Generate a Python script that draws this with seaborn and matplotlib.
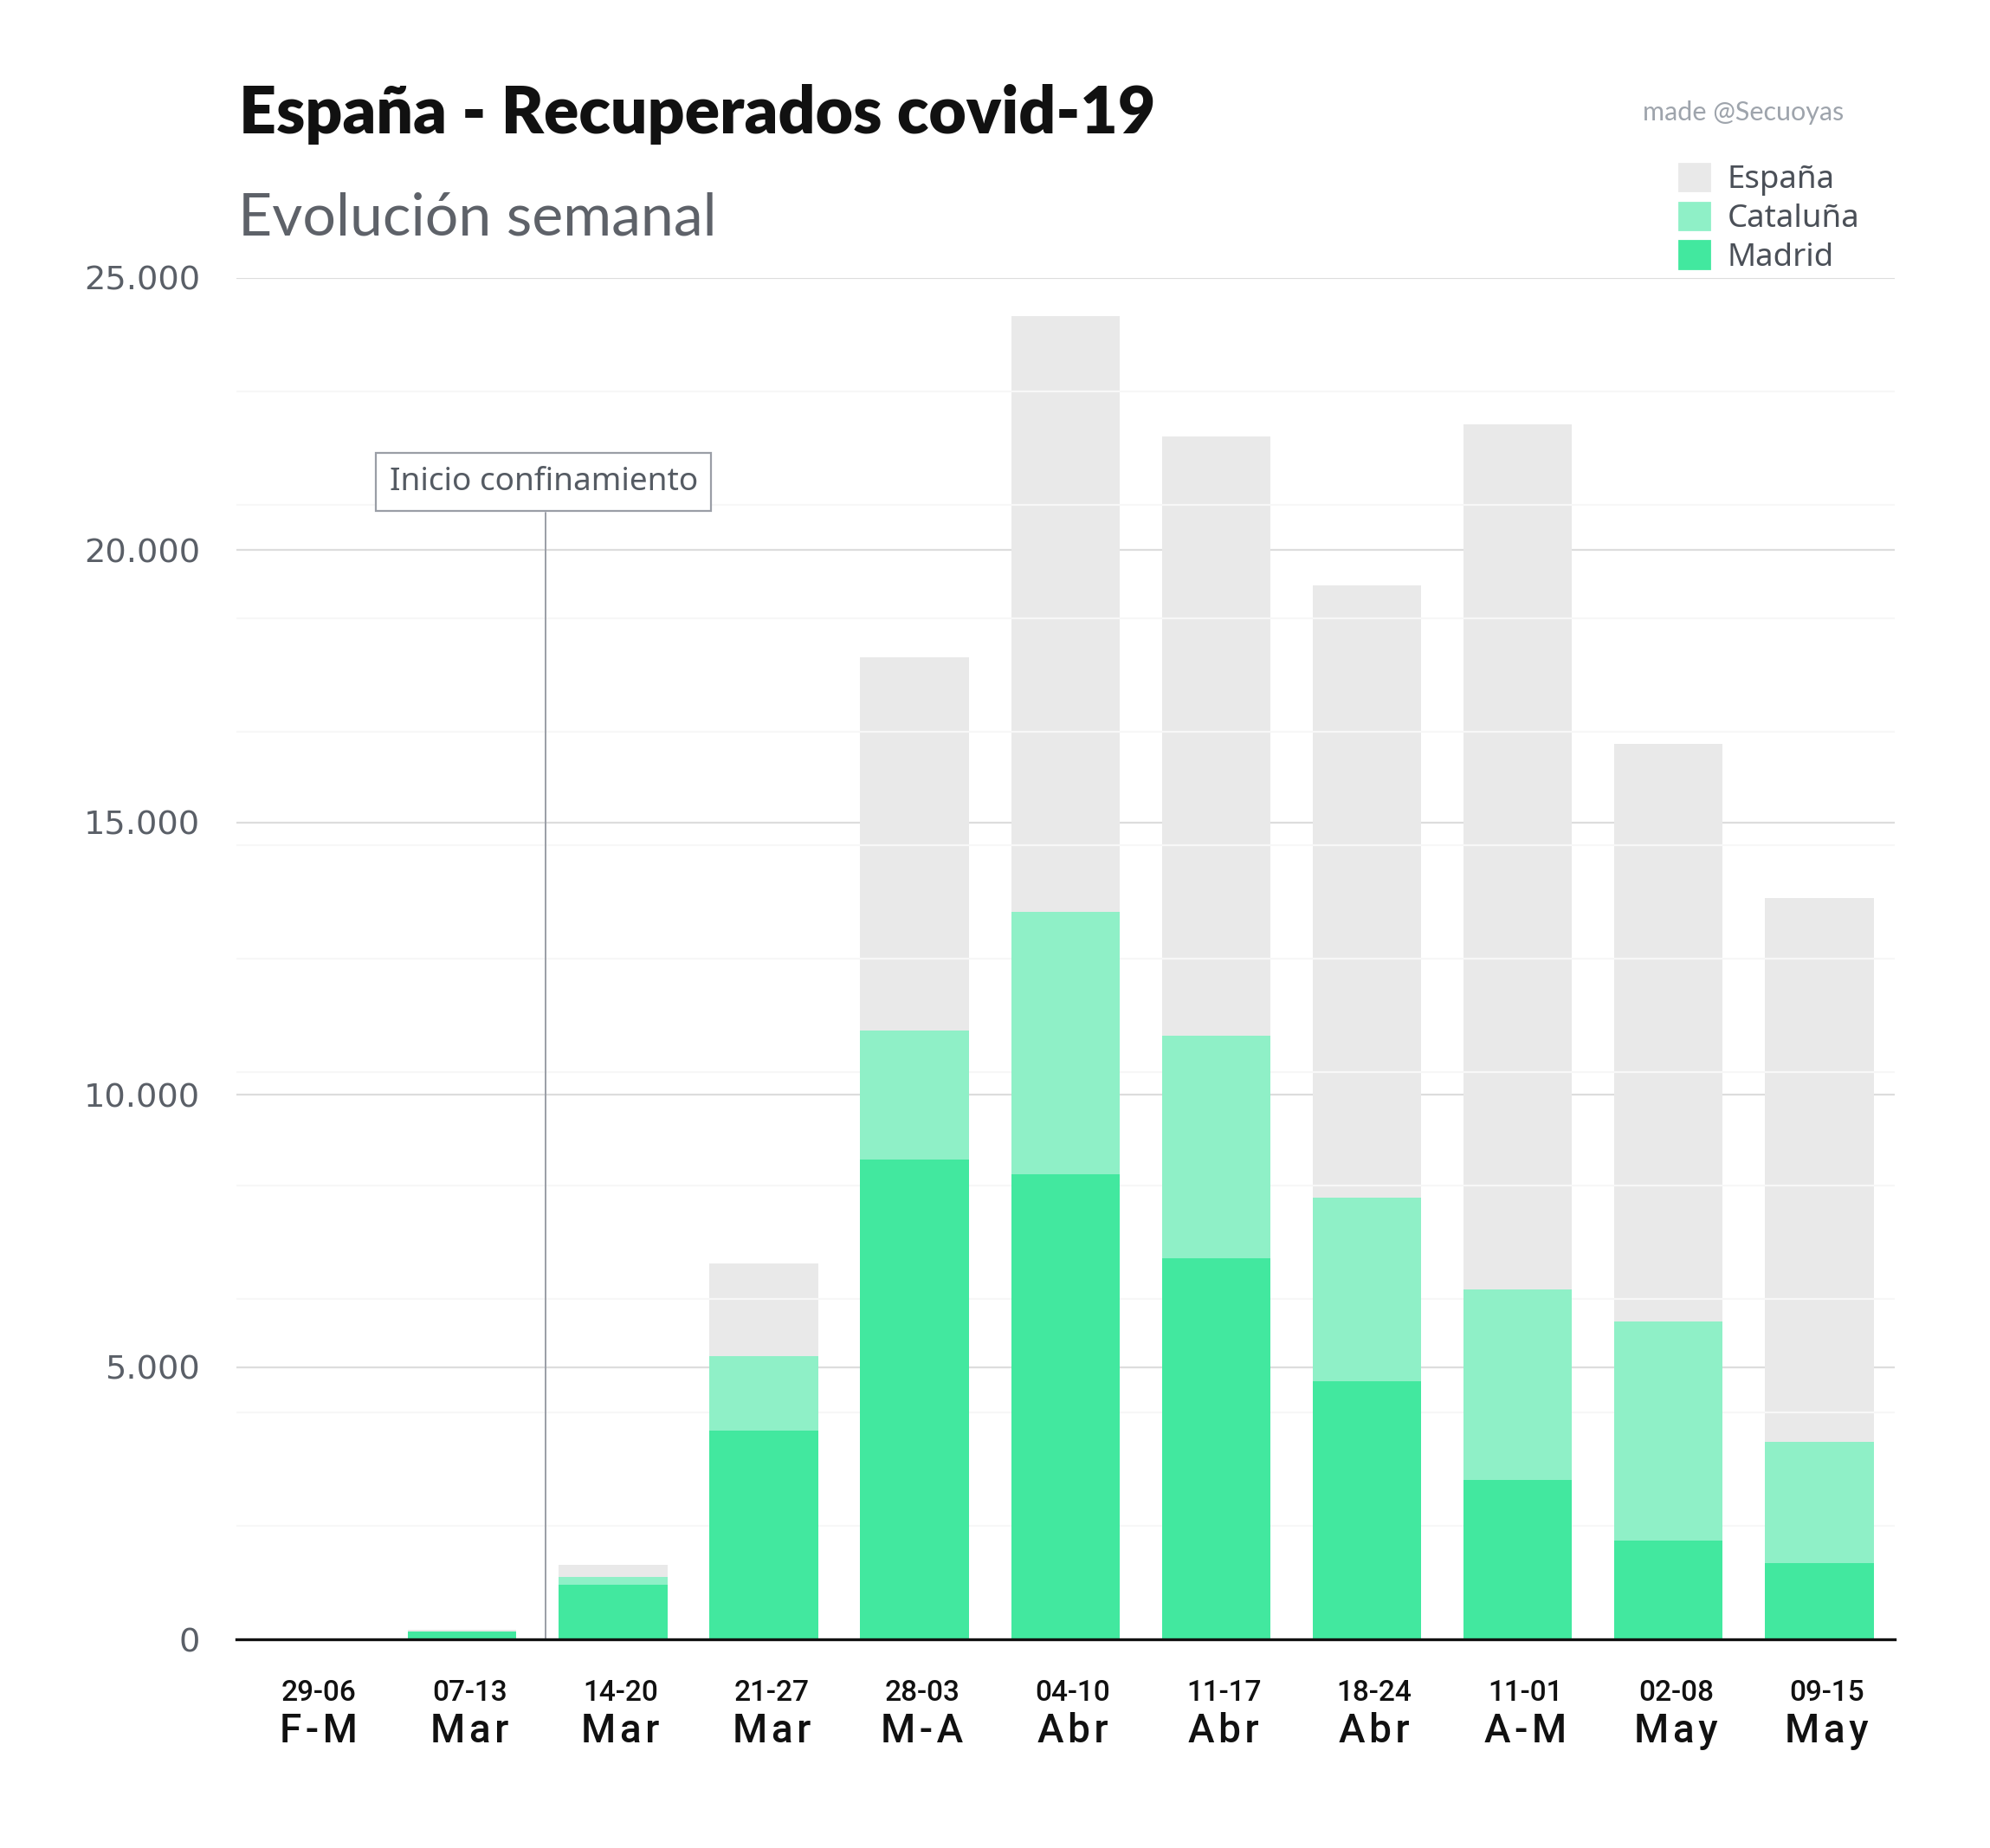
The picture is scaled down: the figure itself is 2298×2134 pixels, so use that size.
import numpy as np
import pandas as pd
import seaborn as sns
import matplotlib.pyplot as plt
from matplotlib.patches import Patch
from matplotlib import transforms

# datos semanales
semanas = ['29-06', '07-13', '14-20', '21-27', '28-03', '04-10', '11-17', '18-24', '11-01', '02-08', '09-15']
meses = ['F-M', 'Mar', 'Mar', 'Mar', 'M-A', 'Abr', 'Abr', 'Abr', 'A-M', 'May', 'May']
espana = [0, 175, 1370, 6900, 18030, 24300, 22090, 19360, 22320, 16450, 13610]
cataluna = [0, 5, 130, 1355, 2370, 4820, 4080, 3360, 3490, 4030, 2230]
madrid = [0, 150, 1015, 3845, 8810, 8550, 7010, 4750, 2940, 1815, 1400]

lockdown_x = 1.55
lockdown_y = 21250
lockdown_line_top = 20690

c_esp = '#e9e9e9'
c_cat = '#8ff0c7'
c_mad = '#42e89f'

df = pd.DataFrame({'semana': semanas, 'mes': meses, 'espana': espana,
                   'cataluna': cataluna, 'madrid': madrid})
df['cat_top'] = df['madrid'] + df['cataluna']

sns.set_theme(style='white')
plt.rcParams['font.family'] = ['DejaVu Sans']

fig = plt.figure(figsize=(11.49, 10.67), dpi=200)
ax = fig.add_axes([0.1186, 0.1127, 0.8335, 0.7369])

# grid mayor detrás
for v in [5000, 10000, 15000, 20000, 25000]:
    ax.axhline(v, color='#dddddd', lw=0.8, zorder=0)

sns.barplot(data=df, x='semana', y='espana', color=c_esp, width=0.72,
            linewidth=0, saturation=1, ax=ax, zorder=1)
# líneas menores (blancas sobre el gris)
minor = np.arange(1, 12) * 25000 / 12
ax.hlines(minor, -0.5, 10.5, color='#f7f7f7', lw=0.8, zorder=1.5)
sns.barplot(data=df, x='semana', y='cat_top', color=c_cat, width=0.72,
            linewidth=0, saturation=1, ax=ax, zorder=2)
sns.barplot(data=df, x='semana', y='madrid', color=c_mad, width=0.72,
            linewidth=0, saturation=1, ax=ax, zorder=3)

ax.set_xlim(-0.5, 10.5)
ax.set_ylim(0, 25000)
ax.set_xlabel('')
ax.set_ylabel('')
for s in ['top', 'right', 'left']:
    ax.spines[s].set_visible(False)
ax.spines['bottom'].set_color('#111111')
ax.spines['bottom'].set_linewidth(1.2)
ax.spines['bottom'].set_zorder(5)

yt = [0, 5000, 10000, 15000, 20000, 25000]
ax.set_yticks(yt)
ax.set_yticklabels([f'{v:,}'.replace(',', '.') for v in yt], fontsize=13.8, color='#5a5f67')
ax.tick_params(axis='y', length=0, pad=15)
ax.set_xticks(range(len(semanas)))
ax.set_xticklabels([])
ax.tick_params(axis='x', length=0)

# etiquetas del eje x en dos líneas
trans = transforms.blended_transform_factory(ax.transData, ax.transAxes)
for i, (s, m) in enumerate(zip(semanas, meses)):
    ax.text(i + 0.05, -0.0394, s, transform=trans, ha='center', va='center',
            fontsize=12, family='Roboto', fontweight='medium', color='#111111')
    ax.text(i + 0.05, -0.0674, '\u200a'.join(m), transform=trans, ha='center', va='center',
            fontsize=16.5, family=['Roboto', 'DejaVu Sans'], fontweight='medium', color='#111111')

# anotación confinamiento
ax.plot([lockdown_x, lockdown_x], [0, lockdown_line_top], color='#9a9ea6', lw=0.7, zorder=4)
ax.text(lockdown_x - 0.01, lockdown_y, 'Inicio confinamiento', ha='center', va='center',
        fontsize=13.3, family='Noto Sans', color='#555b63', zorder=6,
        bbox=dict(boxstyle='square,pad=0.42', fc='white', ec='#9a9ea6', lw=0.8))

# títulos
fig.text(0.1199, 0.928, 'España - Recuperados covid-19', fontsize=27, family='Lato',
         fontweight='heavy', color='#111111', va='baseline')
fig.text(0.1195, 0.873, 'Evolución semanal', fontsize=24.5, family='Lato',
         fontweight='normal', color='#5e6269', va='baseline')
fig.text(0.9267, 0.935, 'made @Secuoyas', fontsize=11, family='Lato',
         color='#9ea4ac', ha='right', va='baseline')

handles = [Patch(color=c_esp, label='España'), Patch(color=c_cat, label='Cataluña'),
           Patch(color=c_mad, label='Madrid')]
fig.legend(handles=handles, loc='upper left', bbox_to_anchor=(0.836, 0.920),
           frameon=False, borderpad=0, labelspacing=0.2,
           handlelength=0.94, handleheight=0.94, handletextpad=0.57,
           prop={'family': 'Noto Sans', 'size': 13.2}, labelcolor='#4b5058')

fig.savefig('out.png', dpi=200, facecolor='white')
